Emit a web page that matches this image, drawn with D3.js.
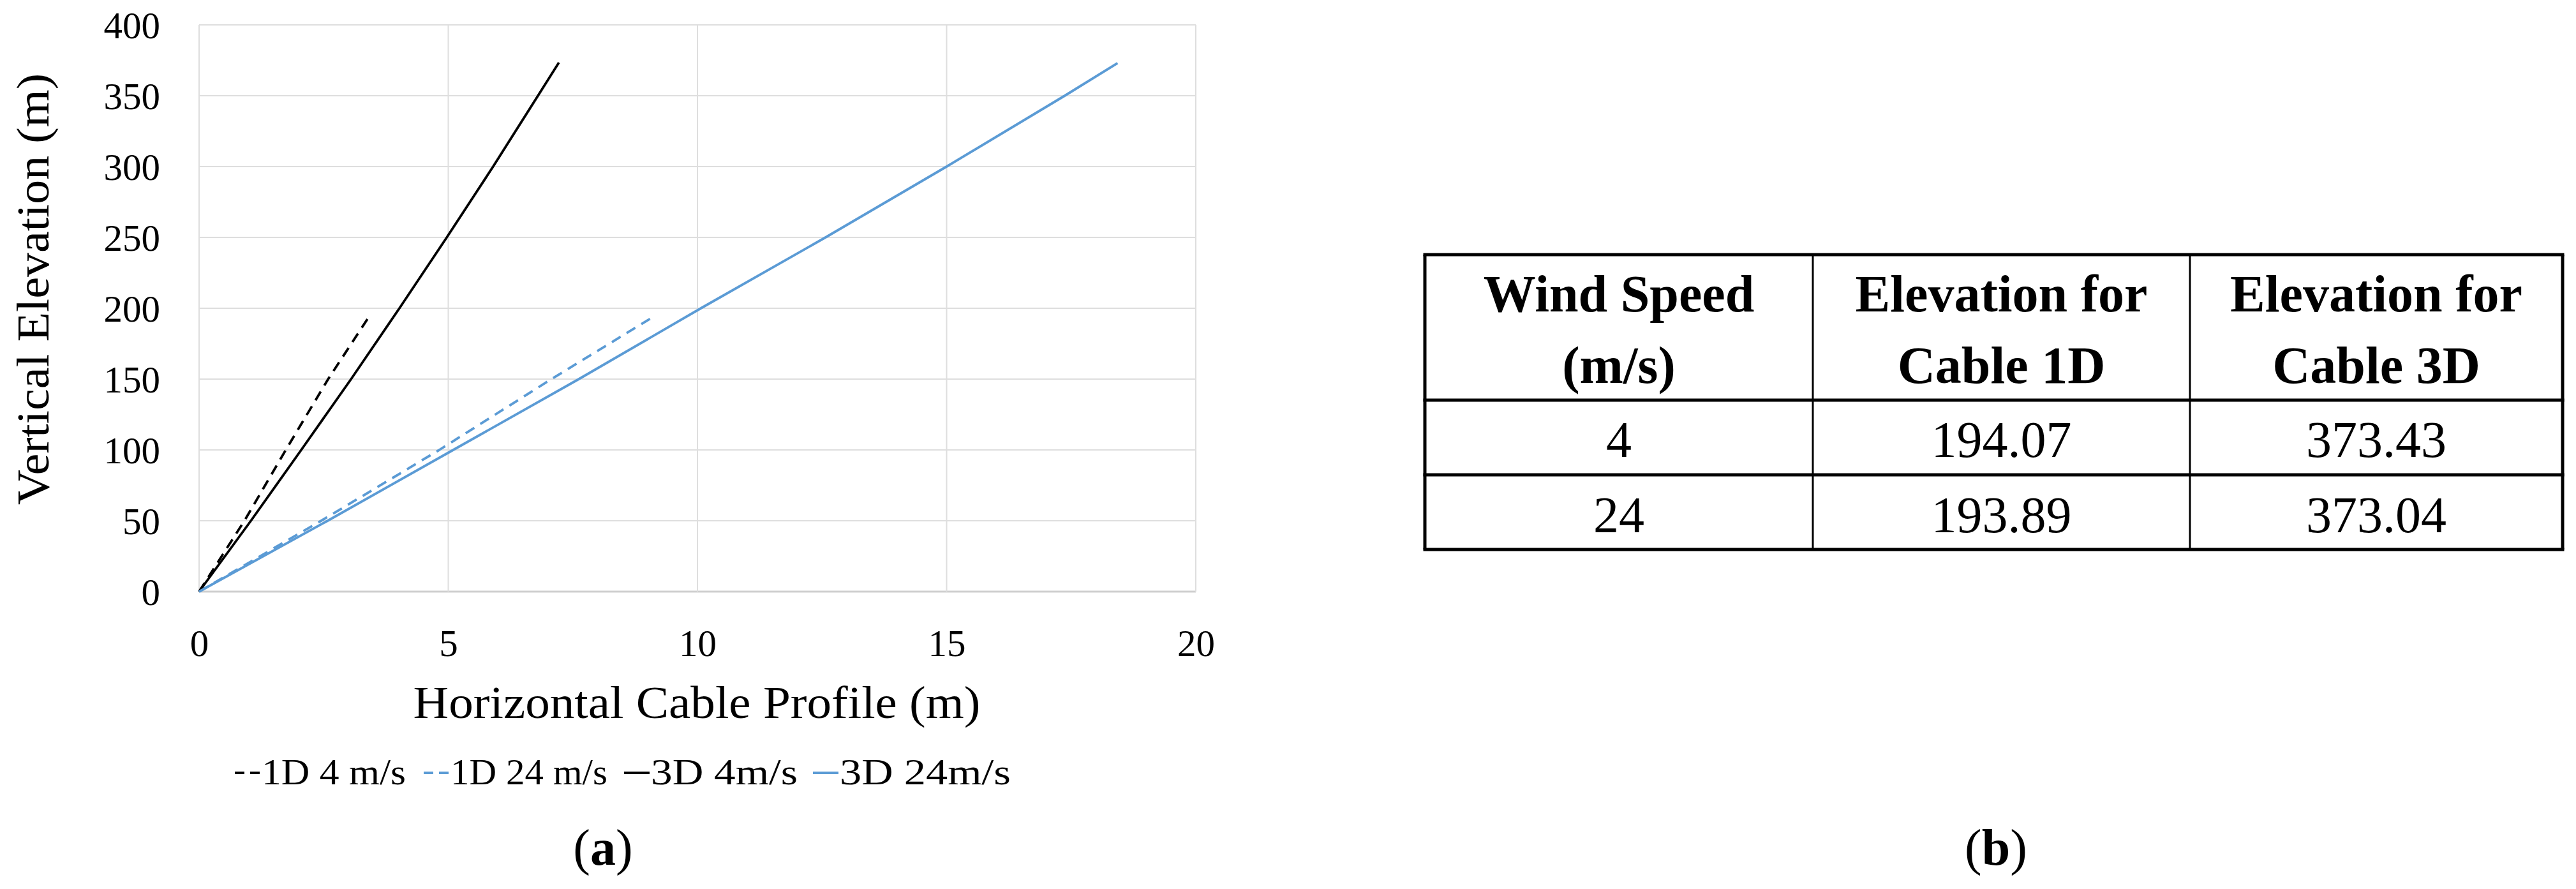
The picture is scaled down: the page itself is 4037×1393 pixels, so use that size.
<!DOCTYPE html>
<html>
<head>
<meta charset="utf-8">
<script src="https://cdn.jsdelivr.net/npm/d3@7"></script>
<style>
  html, body { margin: 0; padding: 0; background: #fff; }
  svg { display: block; }
  text { font-family: "Liberation Serif", "Times New Roman", serif; fill: #000; }
</style>
</head>
<body>
<svg id="chart" width="4037" height="1393"></svg>
<script>
// ---------- data ----------
const xTicks = [0, 5, 10, 15, 20];
const yTicks = [0, 50, 100, 150, 200, 250, 300, 350, 400];

const seriesNames = ["1D 4 m/s", "1D 24 m/s", "3D 4m/s", "3D 24m/s"];

const h1D4  = [0, 0.91, 1.74, 2.59, 3.41];
const v1D4  = [0, 50, 100, 150, 194.07];
const h1D24 = [0, 2.45, 4.82, 7.07, 9.11];
const v1D24 = [0, 50, 100, 150, 193.89];
const h3D4  = [0, 1.04, 2.05, 3.05, 4.02, 4.97, 5.90, 6.80, 7.22];
const v3D4  = [0, 50, 100, 150, 200, 250, 300, 350, 373.43];
const h3D24 = [0, 2.58, 5.10, 7.62, 10.07, 12.57, 15.00, 17.37, 18.43];
const v3D24 = [0, 50, 100, 150, 200, 250, 300, 350, 373.04];

const tableHeader = [["Wind Speed", "(m/s)"], ["Elevation for", "Cable 1D"], ["Elevation for", "Cable 3D"]];
const windSpeeds = [4, 24];
const elev1D = ["194.07", "193.89"];
const elev3D = ["373.43", "373.04"];

// ---------- styles ----------
const BLUE = "#5b9bd5";
const seriesStyle = [
  { h: h1D4,  v: v1D4,  color: "#000", dash: "16,11" },
  { h: h1D24, v: v1D24, color: BLUE,   dash: "16,11" },
  { h: h3D4,  v: v3D4,  color: "#000", dash: null },
  { h: h3D24, v: v3D24, color: BLUE,   dash: null }
];

const svg = d3.select("#chart");

// ---------- chart (a) ----------
const x = d3.scaleLinear().domain([0, 20]).range([312, 1874]);
const y = d3.scaleLinear().domain([0, 400]).range([927, 39]);

const grid = svg.append("g");
grid.selectAll("line.h").data(yTicks).join("line")
  .attr("x1", x(0)).attr("x2", x(20))
  .attr("y1", d => y(d)).attr("y2", d => y(d))
  .attr("stroke", d => d === 0 ? "#cfcfcf" : "#dedede")
  .attr("stroke-width", d => d === 0 ? 3 : 2);
grid.selectAll("line.v").data(xTicks).join("line")
  .attr("y1", y(0)).attr("y2", y(400))
  .attr("x1", d => x(d)).attr("x2", d => x(d))
  .attr("stroke", "#dedede").attr("stroke-width", 2);

// y tick labels
const yAxis = d3.axisLeft(y).tickValues(yTicks).tickSize(0).tickPadding(0);
const yg = svg.append("g").attr("transform", `translate(251,0)`).call(yAxis);
yg.select(".domain").remove();
yg.selectAll("text").attr("font-size", 59).attr("font-family", "Liberation Serif").attr("fill", "#000")
  .attr("dy", "0.34em").attr("x", 0);

// x tick labels
const xAxis = d3.axisBottom(x).tickValues(xTicks).tickSize(0).tickPadding(0);
const xg = svg.append("g").call(xAxis);
xg.select(".domain").remove();
xg.selectAll("text").attr("font-size", 59).attr("font-family", "Liberation Serif").attr("fill", "#000")
  .attr("y", 1028).attr("dy", 0);

// axis titles
svg.append("text").attr("x", 1092).attr("y", 1125).attr("text-anchor", "middle")
  .attr("font-size", 72).attr("textLength", 889).attr("lengthAdjust", "spacingAndGlyphs")
  .text("Horizontal Cable Profile (m)");
svg.append("text").attr("transform", "translate(76,453) rotate(-90)").attr("text-anchor", "middle")
  .attr("font-size", 72).attr("textLength", 676).attr("lengthAdjust", "spacingAndGlyphs")
  .text("Vertical Elevation (m)");

// series lines
const line = d3.line().x(d => x(d[0])).y(d => y(d[1]));
seriesStyle.forEach(s => {
  const pts = s.h.map((hv, i) => [hv, s.v[i]]);
  svg.append("path").datum(pts)
    .attr("d", line)
    .attr("fill", "none")
    .attr("stroke", s.color)
    .attr("stroke-width", 3.8)
    .attr("stroke-dasharray", s.dash)
    .attr("stroke-linejoin", "round");
});

// legend
const legendX = [368, 664, 978, 1274];
const legendTextW = [226, 246, 230, 268];
const legend = svg.append("g");
seriesNames.forEach((name, i) => {
  const s = seriesStyle[i];
  legend.append("line")
    .attr("x1", legendX[i]).attr("x2", legendX[i] + 40)
    .attr("y1", 1211).attr("y2", 1211)
    .attr("stroke", s.color).attr("stroke-width", 4)
    .attr("stroke-dasharray", s.dash ? "15,9" : null);
  legend.append("text")
    .attr("x", legendX[i] + 42).attr("y", 1229)
    .attr("font-size", 56)
    .attr("textLength", legendTextW[i]).attr("lengthAdjust", "spacingAndGlyphs")
    .text(name);
});

// (a)
const la = svg.append("text").attr("x", 945).attr("y", 1355).attr("text-anchor", "middle").attr("font-size", 80);
la.append("tspan").text("(");
la.append("tspan").attr("font-weight", "bold").text("a");
la.append("tspan").text(")");

// ---------- table (b) ----------
const colEdges = [2233, 2841, 3432, 4016];
const rowEdges = [399, 627, 744, 861];
const colCenters = colEdges.slice(0, 3).map((c, i) => (c + colEdges[i + 1]) / 2);

const tbl = svg.append("g");
tbl.selectAll("line.hr").data(rowEdges).join("line")
  .attr("x1", colEdges[0] - 2.5).attr("x2", colEdges[3] + 2.5)
  .attr("y1", d => d).attr("y2", d => d)
  .attr("stroke", "#000").attr("stroke-width", 5);
tbl.selectAll("line.vr").data(colEdges).join("line")
  .attr("x1", d => d).attr("x2", d => d)
  .attr("y1", rowEdges[0]).attr("y2", rowEdges[3])
  .attr("stroke", "#000")
  .attr("stroke-width", (d, i) => (i === 0 || i === 3) ? 5 : 3);

tableHeader.forEach((lines, c) => {
  lines.forEach((t, k) => {
    tbl.append("text")
      .attr("x", colCenters[c]).attr("y", k === 0 ? 488 : 600)
      .attr("text-anchor", "middle").attr("font-weight", "bold")
      .attr("font-size", 82).text(t);
  });
});
const rowBaselines = [716, 834];
windSpeeds.forEach((ws, r) => {
  [String(ws), elev1D[r], elev3D[r]].forEach((t, c) => {
    tbl.append("text")
      .attr("x", colCenters[c]).attr("y", rowBaselines[r])
      .attr("text-anchor", "middle").attr("font-size", 80).text(t);
  });
});

// (b)
const lb = svg.append("text").attr("x", 3128).attr("y", 1355).attr("text-anchor", "middle").attr("font-size", 80);
lb.append("tspan").text("(");
lb.append("tspan").attr("font-weight", "bold").text("b");
lb.append("tspan").text(")");
</script>
</body>
</html>
